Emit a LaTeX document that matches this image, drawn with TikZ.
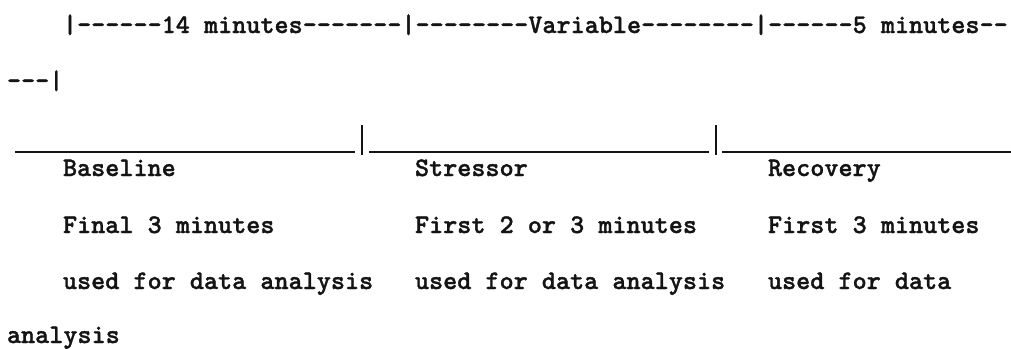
\documentclass[tikz,border=0pt]{standalone}
\usepackage{fontspec}
\newfontfamily\typewriterface{lmmonolt10-bold.otf}[FakeBold=1.2]
\definecolor{ink}{HTML}{141414}
\tikzset{
  typed/.style={anchor=base west, inner sep=0pt, outer sep=0pt,
    font=\fontsize{26.86}{30}\selectfont\typewriterface, text=ink},
  rulebar/.style={draw=ink, line width=2.5pt},
}
\begin{document}
\begin{tikzpicture}[x=1pt,y=-1pt]
\useasboundingbox (0,0) rectangle (1011,348);
% top scale
\node[typed] (scale) at (63,33) {|------14 minutes-------|--------Variable--------|------5 minutes--};
\node[typed] (scalecont) at (7,89) {---|};
% rule row
\coordinate (ra) at (15,152);
\coordinate (rb) at (355,152);
\coordinate (rc) at (369,152);
\coordinate (rd) at (709,152);
\coordinate (re) at (722,152);
\coordinate (rf) at (1011,152);
\coordinate (b1t) at (362,125);
\coordinate (b1b) at (362,155);
\coordinate (b2t) at (716,125);
\coordinate (b2b) at (716,155);
\draw[rulebar] (ra) -- (rb);
\draw[rulebar] (rc) -- (rd);
\draw[rulebar] (re) -- (rf);
\draw[rulebar] (b1t) -- (b1b);
\draw[rulebar] (b2t) -- (b2b);
% phases
\node[typed] (base) at (63,176) {Baseline};
\node[typed] (stress) at (415,176) {Stressor};
\node[typed] (recov) at (768,176) {Recovery};
\node[typed] (base2) at (63,233) {Final 3 minutes};
\node[typed] (stress2) at (415,233) {First 2 or 3 minutes};
\node[typed] (recov2) at (768,233) {First 3 minutes};
\node[typed] (base3) at (63,289) {used for data analysis};
\node[typed] (stress3) at (415,289) {used for data analysis};
\node[typed] (recov3) at (768,289) {used for data};
\node[typed] (recov4) at (7,343) {analysis};
\end{tikzpicture}
\end{document}
